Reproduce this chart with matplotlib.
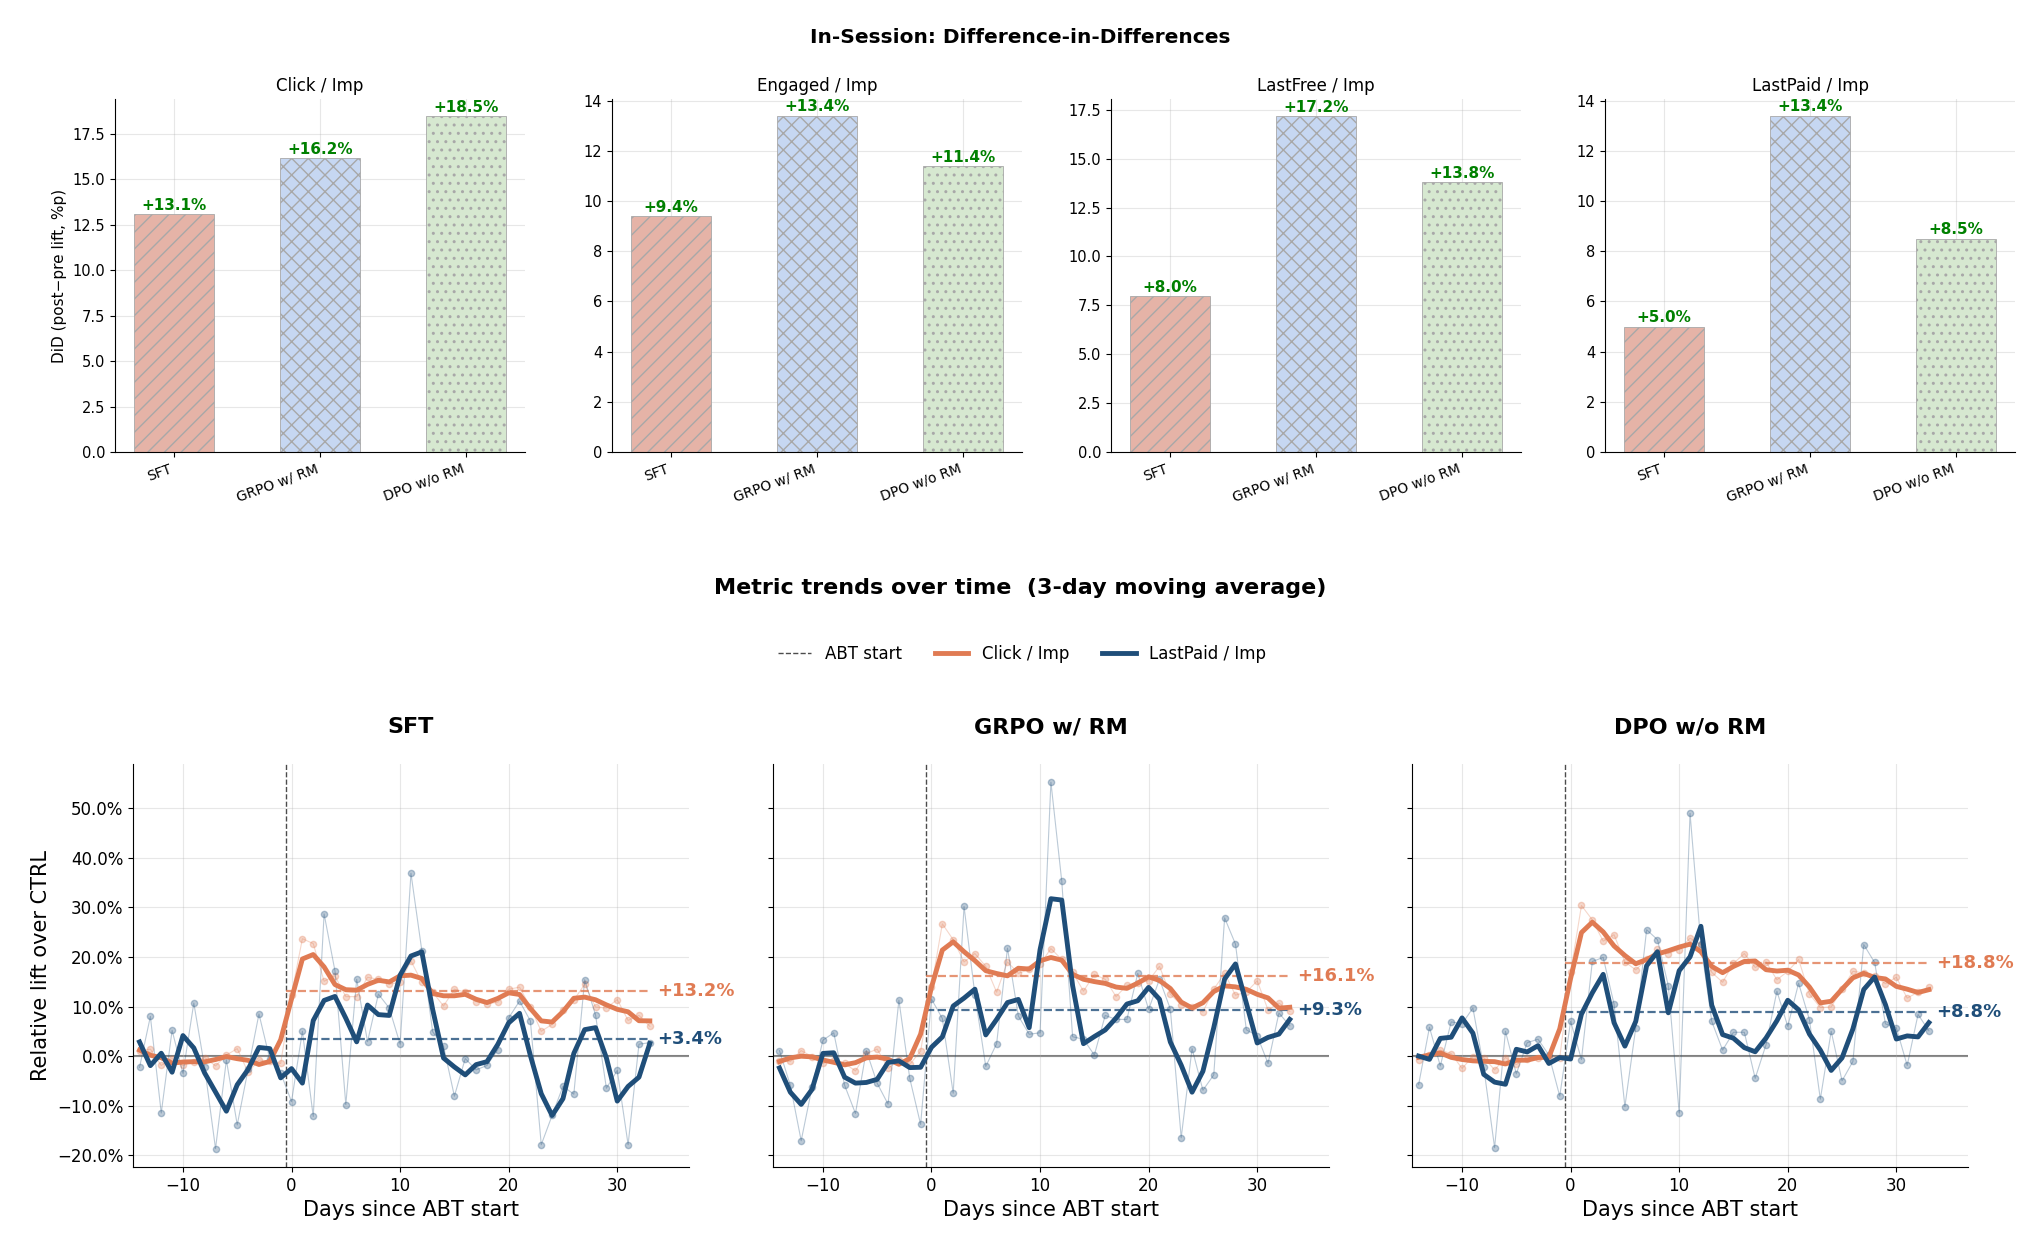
import numpy as np
import pandas as pd
import matplotlib
matplotlib.use("Agg")
import matplotlib.pyplot as plt
from matplotlib.lines import Line2D
from matplotlib.ticker import PercentFormatter

# --- data --------------------------------------------------------------
models = ["SFT", "GRPO w/ RM", "DPO w/o RM"]
did_metrics = ["Click / Imp", "Engaged / Imp", "LastFree / Imp", "LastPaid / Imp"]

did_click = [13.1, 16.2, 18.5]
did_engaged = [9.4, 13.4, 11.4]
did_lastfree = [8.0, 17.2, 13.8]
did_lastpaid = [5.0, 13.4, 8.5]

days = list(range(-14, 34))

click_sft = [1.0, 1.4, -1.9, -0.5, -1.9, -1.2, -0.3, -2.0, 0.2, 1.5, -3.3, -0.8, -1.0, -1.5,
             12.4, 23.7, 22.7, 15.1, 16.2, 12.0, 12.0, 15.9, 15.5, 14.5,
             14.9, 19.2, 14.9, 12.9, 10.1, 13.5, 12.9, 11.0, 10.5, 10.9,
             13.5, 13.9, 9.9, 5.0, 6.4, 9.2, 11.3, 14.5, 9.9, 9.7,
             11.4, 7.2, 8.2, 6.0]
paid_sft = [-2.3, 8.0, -11.5, 5.2, -3.5, 10.7, -2.3, -18.7, -0.8, -13.9, -2.7, 8.5, -0.6, -3.4,
            -9.2, 5.0, -12.2, 28.7, 17.2, -9.8, 15.5, 2.9, 12.5, 9.7,
            2.4, 36.9, 21.3, 4.9, 2.0, -8.1, -0.5, -2.8, -1.9, 1.3,
            7.7, 11.1, 7.1, -17.9, -12.0, -6.1, -7.7, 15.4, 8.3, -6.5,
            -2.9, -17.9, 2.4, 2.7]

click_grpo = [-1.1, -1.1, 1.1, -0.1, -1.5, -0.8, -1.5, -3.0, 0.5, 1.4, -2.5, -0.8, -1.7, 1.0,
              14.0, 26.7, 23.5, 19.0, 20.7, 18.1, 12.9, 19.0, 16.7, 17.5,
              18.5, 21.7, 19.5, 16.9, 13.1, 16.5, 15.5, 12.0, 14.3, 14.7,
              15.2, 18.1, 12.5, 10.3, 9.9, 8.9, 13.5, 16.7, 12.3, 12.9,
              15.2, 9.3, 10.7, 9.0]
paid_grpo = [1.1, -5.9, -17.1, -6.3, 3.2, 4.7, -5.9, -11.6, 1.1, -5.5, -9.7, 11.3, -4.5, -13.8,
             11.5, 7.6, -7.5, 30.2, 12.4, -2.1, 2.5, 21.8, 8.1, 4.4,
             4.7, 55.3, 35.3, 3.9, 3.4, 0.2, 8.2, 7.4, 7.4, 16.7,
             9.4, 15.5, 9.5, -16.5, 1.5, -6.9, -3.8, 27.9, 22.6, 5.3,
             4.1, -1.5, 8.7, 6.1]

click_dpo = [-0.7, 0.2, 1.2, 0.5, -2.5, -0.1, -0.3, -2.8, -0.3, -1.7, -0.5, -0.3, -0.1, -0.3,
             16.9, 30.4, 27.5, 23.2, 24.5, 19.0, 17.4, 19.5, 21.6, 20.7,
             21.5, 23.8, 22.5, 16.9, 14.9, 18.7, 20.7, 17.9, 19.0, 15.4,
             17.1, 19.5, 12.5, 9.8, 9.9, 13.5, 17.1, 16.8, 16.2, 14.6,
             15.9, 11.7, 12.9, 13.9]
paid_dpo = [-5.8, 5.8, -2.0, 6.9, 6.5, 9.7, -2.3, -18.5, 5.0, -3.6, 2.7, 3.4, 0.2, -8.1,
            7.0, -0.7, 19.1, 19.9, 10.5, -10.2, 5.7, 25.5, 23.5, 14.2,
            -11.5, 49.0, 22.6, 7.0, 1.2, 4.8, 4.8, -4.5, 2.3, 13.1,
            6.0, 14.7, 7.3, -8.7, 5.0, -5.0, -1.1, 22.5, 18.9, 6.5,
            5.7, -1.9, 8.4, 5.1]

click_post_avg = [13.2, 16.1, 18.8]
paid_post_avg = [3.4, 9.3, 8.8]

# --- styles ------------------------------------------------------------
bar_colors = ["#E5B3A7", "#C6D7F2", "#D6E8D0"]
bar_hatches = ["//", "xx", ".."]
c_click = "#E07B53"
c_paid = "#1F4E79"

plt.rcParams["hatch.color"] = "#9c9c9c"
plt.rcParams["hatch.linewidth"] = 1.0

fig = plt.figure(figsize=(20.4, 12.52), dpi=100)

# --- top row: DiD bars -------------------------------------------------
fig.text(0.5, 0.970, "In-Session: Difference-in-Differences",
         ha="center", va="center", fontsize=14.5, fontweight="bold")

did_values = [did_click, did_engaged, did_lastfree, did_lastpaid]
bar_lefts = [0.0564, 0.3000, 0.5446, 0.7868]
for i, (name, vals) in enumerate(zip(did_metrics, did_values)):
    ax = fig.add_axes([bar_lefts[i], 0.639, 0.201, 0.282])
    x = np.arange(len(models))
    bars = ax.bar(x, vals, width=0.55, color=bar_colors, hatch=bar_hatches,
                  edgecolor="#a8a8a8", linewidth=0.6)
    for b, v in zip(bars, vals):
        ax.text(b.get_x() + b.get_width() / 2, v + 0.05, f"+{v:.1f}%",
                ha="center", va="bottom", fontsize=11, fontweight="bold", color="green")
    ax.set_xticks(x)
    ax.set_xticklabels(models, rotation=20, ha="right", fontsize=10)
    ax.tick_params(axis="y", labelsize=10.5)
    ax.set_title(name, fontsize=12)
    ax.grid(alpha=0.3)
    ax.set_axisbelow(True)
    ax.spines["top"].set_visible(False)
    ax.spines["right"].set_visible(False)
    if i == 0:
        ax.set_ylabel("DiD (post\u2212pre lift, %p)", fontsize=11)

# --- bottom row: trends -----------------------------------------------
fig.text(0.5, 0.530, "Metric trends over time  (3-day moving average)",
         ha="center", va="center", fontsize=16, fontweight="bold")

handles = [
    Line2D([], [], color="k", lw=1, ls="--", alpha=0.7),
    Line2D([], [], color=c_click, lw=3.5),
    Line2D([], [], color=c_paid, lw=3.5),
]
fig.legend(handles, ["ABT start", "Click / Imp", "LastPaid / Imp"], loc="center",
           bbox_to_anchor=(0.501, 0.478), ncol=3, frameon=False, fontsize=12)

click_series = [click_sft, click_grpo, click_dpo]
paid_series = [paid_sft, paid_grpo, paid_dpo]
line_lefts = [0.0652, 0.3789, 0.6922]
axes = []
for i, model in enumerate(models):
    if i == 0:
        ax = fig.add_axes([line_lefts[i], 0.0679, 0.2725, 0.322])
    else:
        ax = fig.add_axes([line_lefts[i], 0.0679, 0.2725, 0.322], sharey=axes[0])
    axes.append(ax)

    for vals, col in [(click_series[i], c_click), (paid_series[i], c_paid)]:
        ax.plot(days, vals, color=col, lw=0.8, alpha=0.3, marker="o", ms=4.5, zorder=2)
    for vals, col in [(click_series[i], c_click), (paid_series[i], c_paid)]:
        smooth = pd.Series(vals).rolling(3, center=True, min_periods=1).mean()
        ax.plot(days, smooth, color=col, lw=3.5, zorder=4)
    for col, avg in [(c_click, click_post_avg[i]), (c_paid, paid_post_avg[i])]:
        ax.hlines(avg, -0.5, days[-1], colors=col, linestyles="--", lw=1.6, alpha=0.8, zorder=3)
        ax.text(days[-1] + 0.7, avg, f"+{avg:.1f}%", color=col, fontsize=13,
                fontweight="bold", ha="left", va="center")

    ax.axhline(0, color="gray", lw=1.5, zorder=1)
    ax.axvline(-0.5, color="k", lw=1, ls="--", alpha=0.7, zorder=1)
    ax.set_xlim(days[0] - 0.6, days[-1] + 3.6)
    ax.set_title(model, fontsize=16, fontweight="bold", pad=22)
    ax.set_xlabel("Days since ABT start", fontsize=15)
    ax.yaxis.set_major_formatter(PercentFormatter(xmax=100, decimals=1))
    ax.tick_params(labelsize=12)
    ax.grid(alpha=0.3)
    ax.spines["top"].set_visible(False)
    ax.spines["right"].set_visible(False)
    if i == 0:
        ax.set_ylabel("Relative lift over CTRL", fontsize=15)
    else:
        ax.tick_params(axis="y", labelleft=False)

fig.savefig("out.png", dpi=100)
